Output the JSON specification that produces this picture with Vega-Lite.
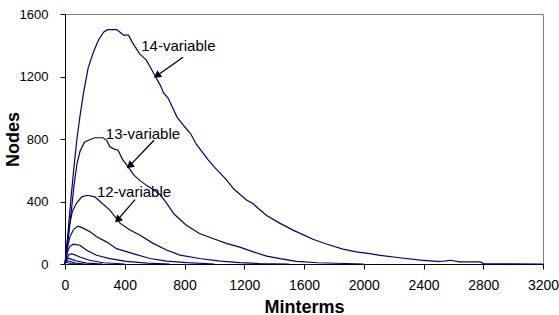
{
  "$schema": "https://vega.github.io/schema/vega-lite/v6.json",
  "width": 478,
  "height": 250,
  "autosize": {"type": "none"},
  "padding": {"left": 65, "top": 14, "right": 16, "bottom": 51},
  "background": "white",
  "config": {"view": {"stroke": "#808080", "strokeWidth": 1}, "font": "Liberation Sans"},
  "datasets": {
    "curves": [
      {"v":14,"m":0,"n":0},{"v":14,"m":20,"n":200},{"v":14,"m":40,"n":420},{"v":14,"m":60,"n":620},{"v":14,"m":80,"n":800},{"v":14,"m":100,"n":945},{"v":14,"m":125,"n":1100},{"v":14,"m":155,"n":1255},{"v":14,"m":190,"n":1355},{"v":14,"m":225,"n":1435},{"v":14,"m":260,"n":1485},{"v":14,"m":285,"n":1500},{"v":14,"m":345,"n":1500},{"v":14,"m":375,"n":1478},{"v":14,"m":392,"n":1465},{"v":14,"m":425,"n":1465},{"v":14,"m":450,"n":1420},{"v":14,"m":470,"n":1390},{"v":14,"m":500,"n":1345},{"v":14,"m":545,"n":1305},{"v":14,"m":600,"n":1210},{"v":14,"m":640,"n":1140},{"v":14,"m":660,"n":1095},{"v":14,"m":690,"n":1062},{"v":14,"m":750,"n":940},{"v":14,"m":800,"n":880},{"v":14,"m":840,"n":835},{"v":14,"m":880,"n":765},{"v":14,"m":960,"n":665},{"v":14,"m":1000,"n":620},{"v":14,"m":1080,"n":540},{"v":14,"m":1130,"n":480},{"v":14,"m":1215,"n":410},{"v":14,"m":1260,"n":385},{"v":14,"m":1300,"n":350},{"v":14,"m":1350,"n":310},{"v":14,"m":1440,"n":260},{"v":14,"m":1530,"n":215},{"v":14,"m":1600,"n":185},{"v":14,"m":1660,"n":158},{"v":14,"m":1750,"n":128},{"v":14,"m":1860,"n":95},{"v":14,"m":1950,"n":78},{"v":14,"m":2040,"n":66},{"v":14,"m":2110,"n":55},{"v":14,"m":2240,"n":40},{"v":14,"m":2380,"n":25},{"v":14,"m":2490,"n":17},{"v":14,"m":2540,"n":18},{"v":14,"m":2580,"n":24},{"v":14,"m":2640,"n":14},{"v":14,"m":2780,"n":13},{"v":14,"m":2800,"n":3},{"v":14,"m":3200,"n":0},
      {"v":13,"m":0,"n":0},{"v":13,"m":20,"n":150},{"v":13,"m":40,"n":320},{"v":13,"m":60,"n":500},{"v":13,"m":80,"n":640},{"v":13,"m":100,"n":720},{"v":13,"m":130,"n":780},{"v":13,"m":165,"n":795},{"v":13,"m":200,"n":808},{"v":13,"m":255,"n":808},{"v":13,"m":280,"n":790},{"v":13,"m":300,"n":750},{"v":13,"m":330,"n":735},{"v":13,"m":355,"n":728},{"v":13,"m":385,"n":670},{"v":13,"m":420,"n":625},{"v":13,"m":460,"n":570},{"v":13,"m":500,"n":535},{"v":13,"m":550,"n":500},{"v":13,"m":600,"n":470},{"v":13,"m":640,"n":440},{"v":13,"m":680,"n":390},{"v":13,"m":730,"n":320},{"v":13,"m":810,"n":250},{"v":13,"m":900,"n":195},{"v":13,"m":990,"n":163},{"v":13,"m":1080,"n":132},{"v":13,"m":1170,"n":108},{"v":13,"m":1260,"n":78},{"v":13,"m":1350,"n":50},{"v":13,"m":1440,"n":34},{"v":13,"m":1550,"n":17},{"v":13,"m":1690,"n":8},{"v":13,"m":2000,"n":0},
      {"v":12,"m":0,"n":0},{"v":12,"m":15,"n":130},{"v":12,"m":30,"n":250},{"v":12,"m":50,"n":340},{"v":12,"m":78,"n":390},{"v":12,"m":112,"n":430},{"v":12,"m":150,"n":440},{"v":12,"m":200,"n":430},{"v":12,"m":235,"n":400},{"v":12,"m":300,"n":345},{"v":12,"m":370,"n":260},{"v":12,"m":435,"n":218},{"v":12,"m":500,"n":185},{"v":12,"m":590,"n":132},{"v":12,"m":680,"n":90},{"v":12,"m":770,"n":57},{"v":12,"m":900,"n":35},{"v":12,"m":1040,"n":19},{"v":12,"m":1170,"n":9},{"v":12,"m":1300,"n":3},{"v":12,"m":1500,"n":0},
      {"v":11,"m":0,"n":0},{"v":11,"m":15,"n":100},{"v":11,"m":33,"n":175},{"v":11,"m":60,"n":225},{"v":11,"m":89,"n":242},{"v":11,"m":125,"n":228},{"v":11,"m":170,"n":205},{"v":11,"m":212,"n":175},{"v":11,"m":280,"n":140},{"v":11,"m":345,"n":98},{"v":11,"m":455,"n":66},{"v":11,"m":570,"n":35},{"v":11,"m":680,"n":19},{"v":11,"m":815,"n":9},{"v":11,"m":1000,"n":0},
      {"v":10,"m":0,"n":0},{"v":10,"m":15,"n":70},{"v":10,"m":30,"n":110},{"v":10,"m":56,"n":127},{"v":10,"m":100,"n":120},{"v":10,"m":145,"n":88},{"v":10,"m":212,"n":56},{"v":10,"m":300,"n":34},{"v":10,"m":410,"n":17},{"v":10,"m":550,"n":6},{"v":10,"m":700,"n":0},
      {"v":9,"m":0,"n":0},{"v":9,"m":10,"n":35},{"v":9,"m":25,"n":58},{"v":9,"m":45,"n":66},{"v":9,"m":100,"n":45},{"v":9,"m":165,"n":24},{"v":9,"m":255,"n":8},{"v":9,"m":400,"n":0},
      {"v":8,"m":0,"n":0},{"v":8,"m":8,"n":22},{"v":8,"m":22,"n":38},{"v":8,"m":45,"n":30},{"v":8,"m":78,"n":19},{"v":8,"m":145,"n":6},{"v":8,"m":250,"n":0},
      {"v":7,"m":0,"n":0},{"v":7,"m":6,"n":13},{"v":7,"m":14,"n":22},{"v":7,"m":35,"n":16},{"v":7,"m":70,"n":6},{"v":7,"m":130,"n":0},
      {"v":6,"m":0,"n":0},{"v":6,"m":5,"n":8},{"v":6,"m":8,"n":12},{"v":6,"m":20,"n":8},{"v":6,"m":40,"n":3},{"v":6,"m":70,"n":0}
    ],
    "notes": [
      {"label":"14-variable","tx":759,"ty":1395,"x":790,"y":1323,"x2":615,"y2":1205},
      {"label":"13-variable","tx":522,"ty":834,"x":596,"y":792,"x2":432,"y2":628},
      {"label":"12-variable","tx":462,"ty":461,"x":469,"y":412,"x2":352,"y2":282}
    ]
  },
  "layer": [
    {
      "data": {"name": "curves"},
      "mark": {"type": "line", "color": "#000080", "strokeWidth": 1.2},
      "encoding": {
        "x": {"field": "m", "type": "quantitative",
          "scale": {"domain": [0, 3200], "nice": false},
          "axis": {"values": [0,400,800,1200,1600,2000,2400,2800,3200], "format": "d", "grid": false, "title": "Minterms",
            "titleFont": "Liberation Sans", "titleFontSize": 18, "titleFontWeight": "bold", "titleColor": "black",
            "titleY": 48, "titleBaseline": "alphabetic",
            "labelFontSize": 14, "labelColor": "black", "labelPadding": 9, "labelFlush": false,
            "domainColor": "black", "tickColor": "black", "tickSize": 5}},
        "y": {"field": "n", "type": "quantitative",
          "scale": {"domain": [0, 1600], "nice": false},
          "axis": {"values": [0,400,800,1200,1600], "format": "d", "grid": false, "title": "Nodes",
            "titleFont": "Liberation Sans", "titleFontSize": 18, "titleFontWeight": "bold", "titleColor": "black",
            "titleX": -47, "titleY": 125, "titleAngle": -90, "titleAlign": "center", "titleBaseline": "alphabetic",
            "labelFontSize": 13, "labelColor": "black", "labelPadding": 12,
            "domainColor": "black", "tickColor": "black", "tickSize": 5}},
        "detail": {"field": "v", "type": "nominal"}
      }
    },
    {
      "data": {"name": "notes"},
      "mark": {"type": "rule", "color": "black", "strokeWidth": 1.3},
      "encoding": {
        "x": {"field": "x", "type": "quantitative"},
        "y": {"field": "y", "type": "quantitative"},
        "x2": {"field": "x2"},
        "y2": {"field": "y2"}
      }
    },
    {
      "data": {"name": "notes"},
      "mark": {"type": "point", "shape": "triangle-up", "filled": true, "color": "black", "size": 70, "opacity": 1},
      "encoding": {
        "x": {"field": "x2", "type": "quantitative"},
        "y": {"field": "y2", "type": "quantitative"},
        "angle": {"field": "label", "type": "nominal", "scale": {"domain": ["14-variable","13-variable","12-variable"], "range": [235, 224, 221]}, "legend": null}
      }
    },
    {
      "data": {"name": "notes"},
      "mark": {"type": "text", "font": "Liberation Sans", "fontSize": 15, "color": "black", "align": "center", "baseline": "middle"},
      "encoding": {
        "x": {"field": "tx", "type": "quantitative"},
        "y": {"field": "ty", "type": "quantitative"},
        "text": {"field": "label"}
      }
    }
  ]
}
